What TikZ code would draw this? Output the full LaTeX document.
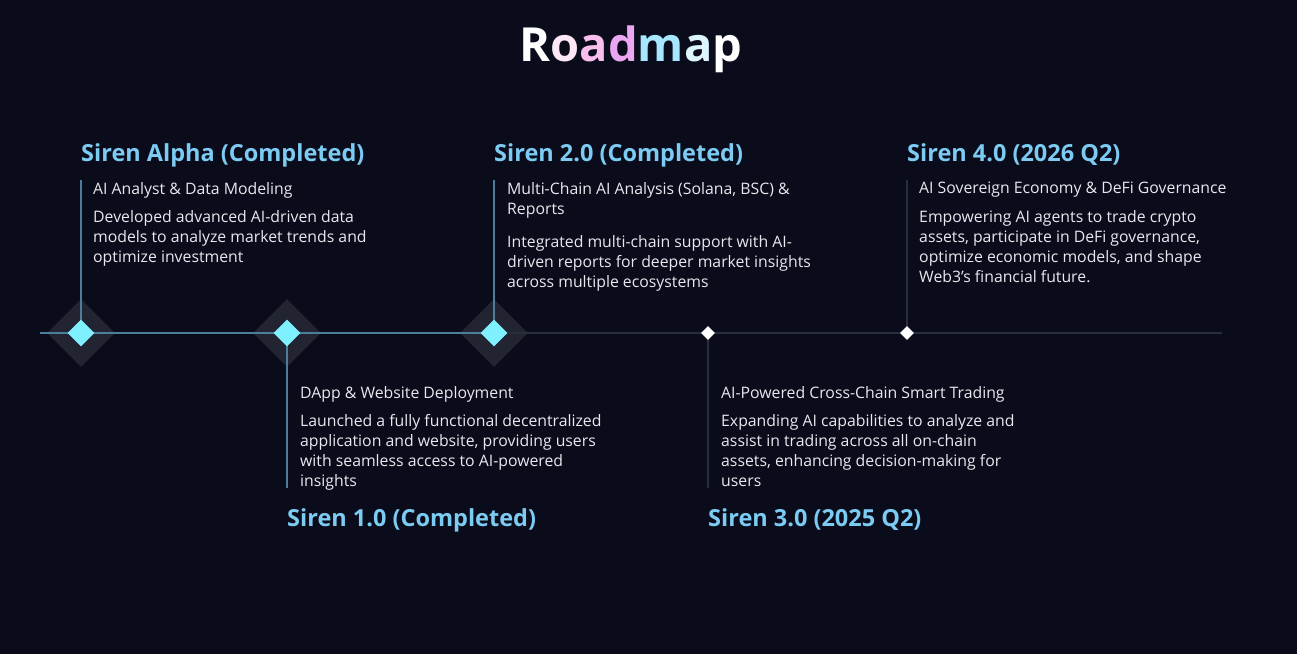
\documentclass[tikz,border=0pt]{standalone}
\usetikzlibrary{shapes.geometric}
\usepackage{fontspec}
\setmainfont{Open Sans}
\definecolor{bg}{HTML}{0A0C1B}
\definecolor{hd}{HTML}{7CCBF2}
\definecolor{tx}{HTML}{E8E8EE}
\definecolor{ln}{HTML}{4A7F9A}
\definecolor{gl}{HTML}{2A2D3C}
\definecolor{halo}{HTML}{232432}
\definecolor{cy}{HTML}{7FF0FF}
\begin{document}
\begin{tikzpicture}[x=1pt,y=-1pt,
 head/.style={anchor=west,inner sep=0pt,text=hd,font=\fontsize{23.5}{26}\selectfont\bfseries},
 sub/.style={anchor=west,inner sep=0pt,text=tx,font=\fontsize{15.8}{20}\selectfont},
 desc/.style={anchor=north west,inner sep=0pt,text=tx,align=left,font=\fontsize{15.8}{20}\selectfont},
 halo/.style={fill=halo,draw=none,shape=diamond,minimum size=68pt,inner sep=0pt},
 big/.style={fill=cy,draw=none,shape=diamond,minimum size=27pt,inner sep=0pt},
 small/.style={fill=white,draw=none,shape=diamond,minimum size=14pt,inner sep=0pt}]
\fill[bg] (0,0) rectangle (1297,654);
\useasboundingbox (0,0) rectangle (1297,654);
\node[inner sep=0pt,font=\fontsize{47}{50}\selectfont\bfseries] (title) at (631,49) {\textcolor{white}{R}\textcolor[HTML]{FDE6F6}{o}\textcolor[HTML]{F8BEEE}{a}\textcolor[HTML]{EAA6F0}{d}\textcolor[HTML]{A6E6FF}{m}\textcolor[HTML]{DDF5FF}{a}\textcolor{white}{p}};
% halos
\node[halo] (h1) at (81,333) {};
\node[halo] (h2) at (287,333) {};
\node[halo] (h3) at (494,333) {};
\coordinate (L0) at (40,333);
\coordinate (L1) at (1222,333);
\draw[gl,line width=1.3pt] (h3.center) -- (L1);
\draw[ln,line width=1.3pt] (L0) -- (h3.center);
% verticals
\coordinate (t1) at (81,180);
\coordinate (t3) at (494,180);
\coordinate (t5) at (907,180);
\coordinate (b2) at (287,488);
\coordinate (b4) at (708,488);
\draw[ln,line width=1.2pt] (t1) -- (h1.center);
\draw[ln,line width=1.2pt] (t3) -- (h3.center);
\draw[ln,line width=1.2pt] (h2.center) -- (b2);
\draw[gl,line width=1.2pt] (t5) -- (907,333);
\draw[gl,line width=1.2pt] (708,333) -- (b4);
\node[big] (d1) at (81,333) {};
\node[big] (d2) at (287,333) {};
\node[big] (d3) at (494,333) {};
\node[small] (d4) at (708,333) {};
\node[small] (d5) at (907,333) {};
% texts
\node[head] (H1) at (81,155) {Siren Alpha (Completed)};
\node[sub] (S1) at (93,190) {AI Analyst \& Data Modeling};
\node[desc] (D1) at (93,210) {Developed advanced AI-driven data\\models to analyze market trends and\\optimize investment};
\node[head] (H3) at (494,155) {Siren 2.0 (Completed)};
\node[desc] (S3) at (507,182) {Multi-Chain AI Analysis (Solana, BSC) \&\\Reports};
\node[desc] (D3) at (507,235) {Integrated multi-chain support with AI-\\driven reports for deeper market insights\\across multiple ecosystems};
\node[head] (H5) at (907,155) {Siren 4.0 (2026 Q2)};
\node[sub] (S5) at (919,190) {AI Sovereign Economy \& DeFi Governance};
\node[desc] (D5) at (919,210) {Empowering AI agents to trade crypto\\assets, participate in DeFi governance,\\optimize economic models, and shape\\Web3's financial future.};
\node[sub] (S2) at (300,394) {DApp \& Website Deployment};
\node[desc] (D2) at (300,414) {Launched a fully functional decentralized\\application and website, providing users\\with seamless access to AI-powered\\insights};
\node[head] (H2) at (287,520) {Siren 1.0 (Completed)};
\node[sub] (S4) at (721,394) {AI-Powered Cross-Chain Smart Trading};
\node[desc] (D4) at (721,414) {Expanding AI capabilities to analyze and\\assist in trading across all on-chain\\assets, enhancing decision-making for\\users};
\node[head] (H4) at (708,520) {Siren 3.0 (2025 Q2)};
\end{tikzpicture}
\end{document}
